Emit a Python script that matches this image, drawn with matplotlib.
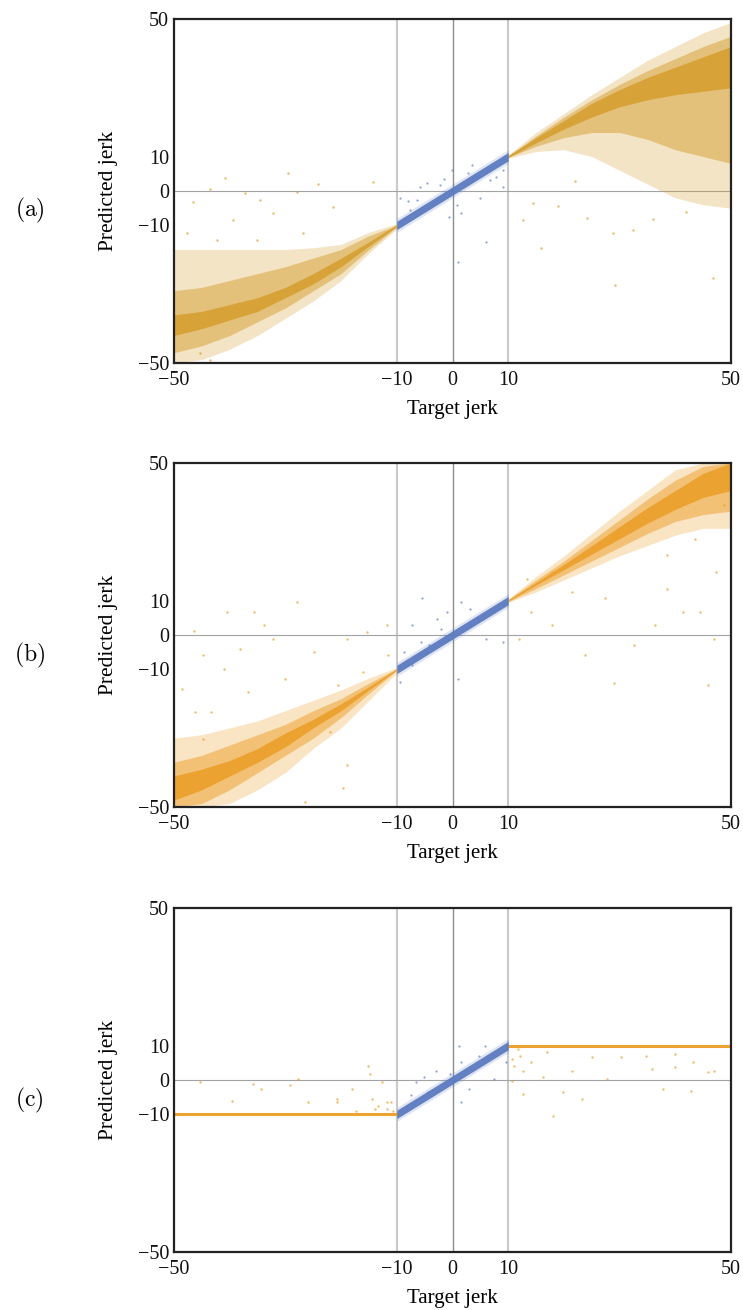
import numpy as np
import matplotlib.pyplot as plt

plt.rcParams['font.family'] = ['Liberation Serif', 'DejaVu Serif']
plt.rcParams['mathtext.fontset'] = 'cm'

# target values at which the cloud envelopes were sampled
x_neg = [-50, -45, -40, -35, -30, -25, -20, -15, -10]
x_pos = [10, 15, 20, 25, 30, 35, 40, 45, 50]

# (a) envelopes of predicted jerk: halo / mid / core, low and high edges
a_neg_halo_lo = [-50, -49, -46, -42, -37, -32, -26, -18, -11]
a_neg_halo_hi = [-17, -17, -17, -17, -17, -16.5, -15.5, -12, -9.5]
a_neg_mid_lo = [-47, -45, -42, -38, -34, -29, -24, -17, -10.5]
a_neg_mid_hi = [-29, -28, -26, -24, -22, -19.5, -17, -13, -10]
a_neg_core_lo = [-42, -40, -37.5, -35, -31, -27, -22, -16, -10.3]
a_neg_core_hi = [-36, -35, -33, -31, -28, -24, -19.5, -14.8, -9.7]

a_pos_halo_lo = [9.5, 11.5, 12, 10, 6, 2, -2, -4, -5]
a_pos_halo_hi = [10.5, 17, 22.5, 28, 33, 38, 42, 46, 49]
a_pos_mid_lo = [9.8, 13, 15.5, 17, 17, 15, 12, 10, 8]
a_pos_mid_hi = [10.2, 16, 21.5, 26.5, 31, 35, 38.5, 42, 45]
a_pos_core_lo = [9.7, 14, 18, 21.5, 24.5, 26.5, 28, 29, 30]
a_pos_core_hi = [10.3, 15.5, 20.5, 25.5, 29.5, 33, 36, 39, 42]

# (b)
b_neg_halo_lo = [-50, -50, -49, -45, -40, -33, -27, -19, -11]
b_neg_halo_hi = [-30, -29, -27, -25, -22, -19, -16, -12.5, -9.5]
b_neg_mid_lo = [-50, -49, -45, -40, -35, -30, -24, -17, -10.3]
b_neg_mid_hi = [-37, -35, -32, -29, -26, -22, -18.5, -14, -9.8]
b_neg_core_lo = [-48, -45, -41, -37, -32.5, -27, -22, -16, -10.2]
b_neg_core_hi = [-41, -39, -36.5, -33, -28.5, -24.5, -20, -15, -9.8]

b_pos_halo_lo = [9.5, 12.5, 16, 19.5, 23, 26, 29, 31, 31]
b_pos_halo_hi = [10.5, 17, 23, 29.5, 36, 42, 48, 50, 50]
b_pos_mid_lo = [9.7, 13.5, 17.5, 21.5, 25.5, 29.5, 33, 35, 36]
b_pos_mid_hi = [10.3, 16, 21.5, 27.5, 33.5, 39.5, 45, 49, 50]
b_pos_core_lo = [9.8, 14.5, 19, 23.5, 28, 32.5, 36.5, 40, 42]
b_pos_core_hi = [10.2, 15.3, 20.5, 26, 31.5, 37, 42, 47, 50]

# linear (blue) region, |target| <= 10
x_lin = [-10, 0, 10]
lin_core_lo = [-11.2, -1.2, 8.8]
lin_core_hi = [-8.8, 1.2, 11.2]
lin_halo_lo = [-12.0, -2.0, 8.0]
lin_halo_hi = [-8.0, 2.0, 12.0]

# (c) clipped predictions
c_neg_x = [-50, -10]
c_neg_y = [-10, -10]
c_pos_x = [10, 50]
c_pos_y = [10, 10]

# sparse points away from the main clouds
a_out_x = [-29.5, -40.8, -24.1, -43.5, -37.2, -27.9, -46.6, -34.6, -32.2, -21.4,
           -39.4, -47.7, -26.8, -42.3, -35.1, -43.5, -45.3, -14.3, 15.8, 29.2,
           46.7, 32.4, 28.8, 24.1, 12.7, 14.5, 19.0, 36.0, 42.0, 22.0]
a_out_y = [5.3, 3.9, 2.1, 0.6, -0.5, -0.2, -3.1, -2.6, -6.5, -4.6,
           -8.5, -12.3, -12.3, -14.2, -14.2, -49.0, -47.0, 2.6, -16.6, -27.3,
           -25.3, -11.3, -12.2, -7.9, -8.4, -3.6, -4.5, -8.0, -6.0, 3.0]
a_blue_x = [-4.6, -0.1, 2.8, 0.75, 1.6, -0.6, -6.4, -7.6, -9.4, -2.2, 4.9, 6.7,
            9.1, 9.1, -3.5, -5.8, 6.0, 1.0, -8.0, 3.5, 7.8, -1.5]
a_blue_y = [2.2, 6.1, 5.2, -4.1, -6.5, -7.5, -2.6, -5.5, -2.0, 1.7, -2.0, 3.2,
            1.2, 6.1, -3.5, 1.2, -14.8, -20.6, -3.0, 7.5, 4.0, 3.5]

b_out_x = [-46.4, -40.4, -35.6, -27.9, -44.8, -41.1, -32.3, -24.9, -19.0, -15.4,
           -11.7, -36.7, -30.1, -48.5, -43.3, -20.5, -22.0, -19.0, -19.7, -26.4,
           -16.1, -33.8, -38.2, -44.8, -46.3, -11.6,
           11.9, 14.1, 17.8, 23.7, 28.9, 32.6, 36.3, 41.4, 45.8, 47.0,
           44.4, 27.4, 21.5, 38.5, 47.3, 43.6, 38.5, 13.4, 17.8, 48.8]
b_out_y = [1.1, 6.7, 6.7, 9.6, -5.9, -9.8, -1.1, -4.9, -1.1, 0.9,
           2.8, -16.6, -12.7, -15.6, -22.4, -14.6, -28.2, -37.9, -44.6, -48.5,
           -10.7, 2.8, -4.0, -30.1, -22.4, -5.9,
           -1.1, 6.7, 2.8, -5.9, -14.1, -3.0, 2.8, 6.7, -14.6, -1.1,
           6.7, 10.6, 12.5, 13.5, 18.3, 28.0, 23.1, 16.4, 18.3, 37.7]
b_blue_x = [-5.4, 1.6, -7.2, -4.3, -2.1, 0.9, 3.1, 6.0, 7.5, 9.0, -8.7, -9.4,
            -2.8, -1.0, 3.1, 4.6, -7.2, -5.7]
b_blue_y = [10.6, 9.6, 2.8, -3.0, 1.8, -12.7, 2.8, -1.1, 6.7, -2.0, -4.9, -13.6,
            4.7, 6.7, 7.6, 4.3, -8.8, -2.0]

c_out_x = [-45.4, -39.5, -35.8, -34.3, -29.2, -27.7, -25.9, -20.7, -18.1, -14.8,
           -15.1, -14.4, -13.3, -11.8, -12.6, -11.1, -10.7, -14.0, -11.8, -11.4,
           -17.4, -20.7,
           10.7, 11.1, 12.2, 12.6, 11.8, 14.0, 16.2, 17.0, 19.9, 21.4,
           23.3, 18.1, 25.1, 27.7, 30.3, 34.7, 35.8, 37.7, 39.9, 42.8,
           43.2, 45.8, 47.0, 39.9, 12.6, 10.7]
c_out_y = [-0.5, -6.0, -1.2, -2.6, -1.6, 0.3, -6.5, -6.5, -2.6, 1.7,
           4.2, -5.5, -7.5, -8.4, -0.7, -6.5, -8.9, -8.4, -6.5, -9.9,
           -8.9, -5.5,
           6.1, 4.2, 7.1, 2.7, 9.0, 5.1, 0.8, 8.0, -3.6, 2.7,
           -5.5, -10.4, 6.6, 0.3, 6.6, 7.1, 3.2, -2.6, 3.7, -3.1,
           5.1, 2.2, 2.7, 7.6, -4.1, -0.2]
c_blue_x = [1.1, 5.9, -0.4, -2.95, -5.2, -6.6, 1.5, 3.0, 7.4, 9.6, 1.5, 4.8,
            -7.4, -4.4]
c_blue_y = [10.0, 9.8, 1.7, 2.7, 0.8, -0.7, -6.5, -2.6, 0.3, 5.1, 5.1, 7.1,
            -4.5, -3.6]

blue = '#5b7bc0'
gold = '#d6a031'
orange = '#eca02a'
line_orange = '#eda232'

ticks = [-50, -10, 0, 10, 50]
tick_labels = ['\u221250', '\u221210', '0', '10', '50']


def draw_cloud(ax, x, bands, color):
    '''layered fill bands, lightest first, to show point density'''
    for lo, hi, alpha in bands:
        ax.fill_between(x, lo, hi, color=color, alpha=alpha, lw=0, zorder=2)


def style_axes(ax, tag, ypos):
    ax.set_xlim(-50, 50)
    ax.set_ylim(-50, 50)
    ax.axvline(-10, color='#c9c9c9', lw=1.5, zorder=1)
    ax.axvline(10, color='#c9c9c9', lw=1.5, zorder=1)
    ax.axvline(0, color='#8e8e8e', lw=1.0, zorder=1)
    ax.axhline(0, color='#a3a3a3', lw=0.8, zorder=1)
    ax.set_xticks(ticks)
    ax.set_xticklabels(tick_labels)
    ax.set_yticks(ticks)
    ax.set_yticklabels(tick_labels)
    ax.tick_params(length=0, labelsize=14.5, colors='#111111')
    ax.tick_params(axis='x', pad=6)
    ax.tick_params(axis='y', pad=3.5)
    for s in ax.spines.values():
        s.set_linewidth(1.6)
        s.set_color('#222222')
    ax.set_xlabel('Target jerk', fontsize=15)
    ax.set_ylabel('Predicted jerk', fontsize=15.5)
    ax.xaxis.set_label_coords(0.5, -0.108)
    ax.yaxis.set_label_coords(-0.100, 0.5)
    fig.text(0.04, ypos, r'$\mathrm{(%s)}$' % tag, fontsize=17,
             ha='center', va='center')


def draw_linear(ax, bx, by):
    ax.fill_between(x_lin, lin_halo_lo, lin_halo_hi, color=blue, alpha=0.2,
                    lw=0, zorder=2)
    ax.fill_between(x_lin, lin_core_lo, lin_core_hi, color=blue, alpha=0.95,
                    lw=0, zorder=2)
    ax.scatter(bx, by, s=2.5, color=blue, alpha=0.7, lw=0, zorder=2)


fig = plt.figure(figsize=(7.43, 13.10), dpi=100)
left, width, height = 0.2342, 0.7497, 0.2626
ax_a = fig.add_axes([left, 0.7229, width, height])
ax_b = fig.add_axes([left, 0.3840, width, height])
ax_c = fig.add_axes([left, 0.0443, width, height])

#(a)
draw_cloud(ax_a, x_neg, [(a_neg_halo_lo, a_neg_halo_hi, 0.28),
                         (a_neg_mid_lo, a_neg_mid_hi, 0.5),
                         (a_neg_core_lo, a_neg_core_hi, 0.9)], gold)
draw_cloud(ax_a, x_pos, [(a_pos_halo_lo, a_pos_halo_hi, 0.28),
                         (a_pos_mid_lo, a_pos_mid_hi, 0.5),
                         (a_pos_core_lo, a_pos_core_hi, 0.9)], gold)
ax_a.scatter(a_out_x, a_out_y, s=3, color=gold, alpha=0.7, lw=0, zorder=2)
draw_linear(ax_a, a_blue_x, a_blue_y)
style_axes(ax_a, 'a', 0.8397)

#(b)
draw_cloud(ax_b, x_neg, [(b_neg_halo_lo, b_neg_halo_hi, 0.28),
                         (b_neg_mid_lo, b_neg_mid_hi, 0.5),
                         (b_neg_core_lo, b_neg_core_hi, 0.92)], orange)
draw_cloud(ax_b, x_pos, [(b_pos_halo_lo, b_pos_halo_hi, 0.28),
                         (b_pos_mid_lo, b_pos_mid_hi, 0.5),
                         (b_pos_core_lo, b_pos_core_hi, 0.92)], orange)
ax_b.scatter(b_out_x, b_out_y, s=3, color=orange, alpha=0.7, lw=0, zorder=2)
draw_linear(ax_b, b_blue_x, b_blue_y)
style_axes(ax_b, 'b', 0.5000)

#(c)
ax_c.plot(c_neg_x, c_neg_y, color=line_orange, lw=2.2, zorder=2)
ax_c.plot(c_pos_x, c_pos_y, color=line_orange, lw=2.2, zorder=2)
ax_c.scatter(c_out_x, c_out_y, s=3, color=line_orange, alpha=0.7, lw=0, zorder=2)
draw_linear(ax_c, c_blue_x, c_blue_y)
style_axes(ax_c, 'c', 0.1603)

fig.savefig('out.png', dpi=100)
